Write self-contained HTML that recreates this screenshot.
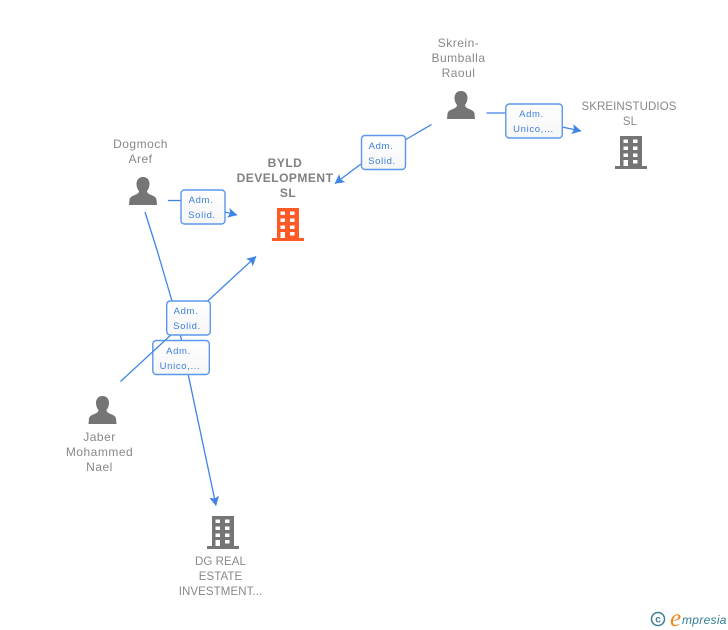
<!DOCTYPE html>
<html><head><meta charset="utf-8"><style>
html,body{margin:0;padding:0;background:#fff}
svg{display:block}
text{font-family:"Liberation Sans",sans-serif}
.l{font-size:12px;fill:#888;text-anchor:middle;letter-spacing:.5px}
.u{font-size:11.5px;fill:#888;text-anchor:middle;letter-spacing:.08px}
.b{font-size:12px;fill:#808080;font-weight:bold;text-anchor:middle;letter-spacing:.5px}
.t{font-size:9.5px;fill:#3b7fdd;text-anchor:middle;letter-spacing:.65px}
.c{fill:none;stroke:#3f84e5;stroke-width:1.3}
.r{fill:url(#g);stroke:#5b97ea;stroke-width:1.4}
</style></head><body>
<svg width="728" height="630" viewBox="0 0 728 630" xmlns="http://www.w3.org/2000/svg">
<defs>
<linearGradient id="g" x1="0" y1="0" x2="0" y2="1"><stop offset="0" stop-color="#fff"/><stop offset="1" stop-color="#f6f6f6"/></linearGradient>
<marker id="a" markerUnits="userSpaceOnUse" markerWidth="14" markerHeight="14" refX="11" refY="7" orient="auto" viewBox="0 0 14 14"><path d="M11.500 7L2 2L4 7L2 12Z" fill="#3f84e5"/></marker>
<symbol id="p" viewBox="0 0 28 28" overflow="visible"><path d="M14 0C9.800 0 7.500 3 7.500 7C7.500 10 8.800 12.500 10 14C10 15.500 9 16.500 7.500 17.200C4.500 18.500 1 19.500 .5 22.500L0 28H28L27.500 22.500C27 19.500 23.500 18.500 20.500 17.200C19 16.500 18 15.500 18 14C19.200 12.500 20.500 10 20.500 7C20.500 3 18.200 0 14 0Z"/></symbol>
<symbol id="h" viewBox="0 0 32 34" overflow="visible"><path fill-rule="evenodd" d="M5 1H27V31H32V34H0V31H5ZM8.500 4.500V8H13V4.500ZM18 4.500V8H22.500V4.500ZM8.500 11.500V15H13V11.500ZM18 11.500V15H22.500V11.500ZM8.500 18.500V22H13V18.500ZM18 18.500V22H22.500V18.500ZM8.500 25V31H13V25ZM18 25V28.500H22.500V25Z"/></symbol>
</defs>

<path class="c" d="M168 200.500H181"/>
<path class="c" d="M225 212L237 215" marker-end="url(#a)"/>
<path class="c" d="M431.500 124.500L405 140M361 164L335 183.500" marker-end="url(#a)"/>
<path class="c" d="M486.500 113H506"/>
<path class="c" d="M562 127L581 131" marker-end="url(#a)"/>
<path class="c" d="M145 212L157 250L171.700 300L181 338L188.300 375L216 505.500" marker-end="url(#a)"/>

<rect class="r" x="152.800" y="340.500" width="56.500" height="34" rx="3.500"/>
<text class="t" x="178.500" y="354">Adm.</text><text class="t" x="180" y="369">Unico,...</text>

<path class="c" d="M120.500 381.500L256 256.500" marker-end="url(#a)"/>

<rect class="r" x="181" y="190" width="44" height="34" rx="3.500"/>
<text class="t" x="201" y="203">Adm.</text><text class="t" x="202" y="218">Solid.</text>
<rect class="r" x="361.500" y="135.500" width="44" height="34" rx="3.500"/>
<text class="t" x="381" y="149">Adm.</text><text class="t" x="382" y="164">Solid.</text>
<rect class="r" x="505.800" y="104" width="56.500" height="34" rx="3.500"/>
<text class="t" x="531.500" y="117">Adm.</text><text class="t" x="533.500" y="132">Unico,...</text>
<rect class="r" x="166.700" y="301" width="43.600" height="34" rx="3.500"/>
<text class="t" x="186" y="314">Adm.</text><text class="t" x="187" y="329">Solid.</text>

<use href="#p" x="129" y="177" width="28" height="28" fill="#757575"/>
<use href="#p" x="447" y="91" width="28" height="28" fill="#757575"/>
<use href="#p" x="88.500" y="396" width="28" height="28" fill="#757575"/>
<use href="#h" x="272" y="207" width="32" height="34" fill="#ff5a26"/>
<use href="#h" x="615" y="135" width="32" height="34" fill="#757575"/>
<use href="#h" x="207" y="515" width="32" height="34" fill="#757575"/>

<text class="l" x="140.500" y="148">Dogmoch</text><text class="l" x="140.500" y="163">Aref</text>
<text class="b" x="285" y="167">BYLD</text><text class="b" x="285" y="182">DEVELOPMENT</text><text class="b" x="288" y="197">SL</text>
<text class="l" x="458.500" y="47">Skrein-</text><text class="l" x="458.500" y="62">Bumballa</text><text class="l" x="458.500" y="77">Raoul</text>
<text class="u" x="629" y="110">SKREINSTUDIOS</text><text class="u" x="630" y="125">SL</text>
<text class="l" x="99.500" y="441">Jaber</text><text class="l" x="99.500" y="456">Mohammed</text><text class="l" x="99.500" y="471">Nael</text>
<text class="u" x="220.500" y="565">DG REAL</text><text class="u" x="220.500" y="580">ESTATE</text><text class="u" x="220.500" y="595">INVESTMENT...</text>

<circle cx="658" cy="619" r="6.500" fill="none" stroke="#3f7d93" stroke-width="1.500"/>
<text x="658" y="622.500" font-size="10" font-weight="bold" fill="#3f7d93" text-anchor="middle">c</text>
<text x="670" y="626" font-size="25" fill="#f08a1d" style="font-family:'Liberation Serif',serif;font-style:italic">e</text>
<text x="682" y="624" font-size="12" fill="#2f7f96" letter-spacing=".3" style="font-style:italic">mpresia</text>
</svg>
</body></html>
